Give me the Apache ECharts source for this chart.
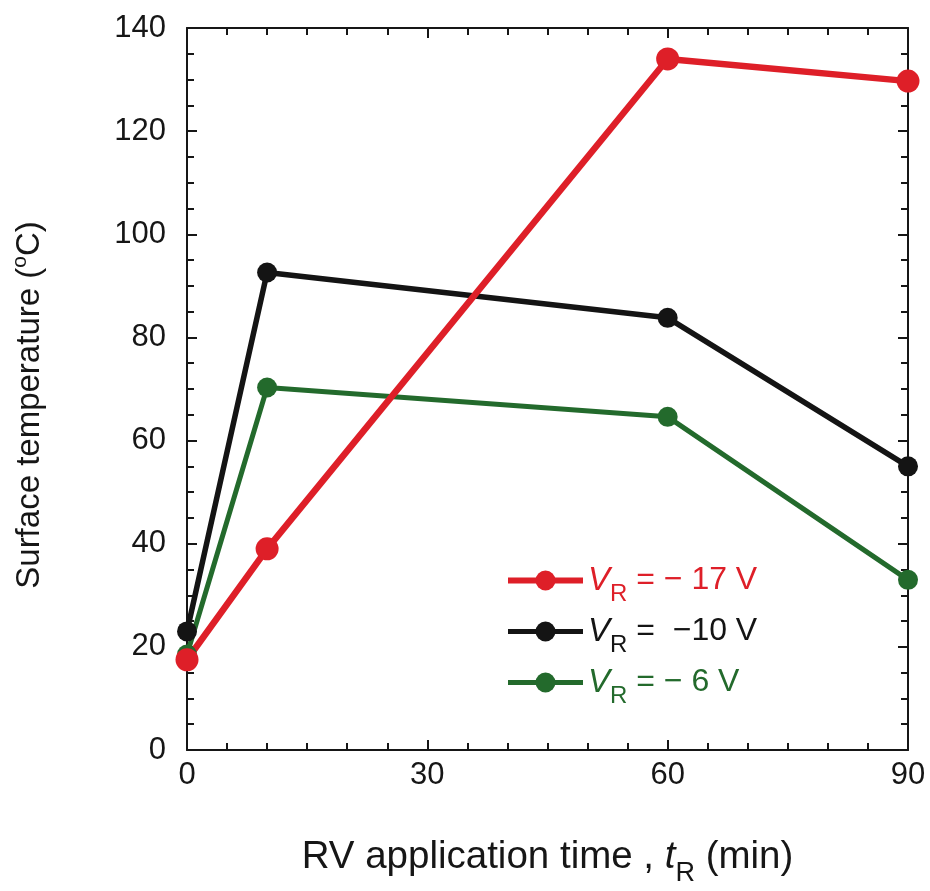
<!DOCTYPE html>
<html>
<head>
<meta charset="utf-8">
<script src="https://cdn.jsdelivr.net/npm/echarts@6/dist/echarts.min.js"></script>
<style>
  html, body { margin: 0; padding: 0; background: #fff; }
  #chart { width: 930px; height: 891px; }
</style>
</head>
<body>
<div id="chart"></div>
<script>
// Application time of the reverse voltage (min)
const times = [0, 10, 60, 90];
// Surface temperature (°C) for each reverse voltage
const tempV17 = [17.5, 39, 134, 129.7];
const tempV10 = [23, 92.6, 83.8, 55];
const tempV6 = [18.5, 70.3, 64.6, 33];
const seriesNames = ['V17', 'V10', 'V6'];
const legendTexts = { V17: '= − 17 V', V10: '=  −10 V', V6: '= − 6 V' };
const xTickLabels = ['0', '30', '60', '90'];
const yTickLabels = ['0', '20', '40', '60', '80', '100', '120', '140'];

const FONT = '"Liberation Sans", Arial, Helvetica, sans-serif';
const INK = '#161616';
const RED = '#de1f28';
const BLACK = '#141414';
const GREEN = '#236a2c';

const pairs = (ys) => times.map((t, i) => [t, ys[i]]);

function axisBase(extra) {
  return Object.assign({
    type: 'value',
    axisLine: { show: true, onZero: false, lineStyle: { color: INK, width: 2 } },
    axisTick: { show: true, inside: true, length: 10, lineStyle: { color: INK, width: 2 } },
    splitLine: { show: false },
    minorSplitLine: { show: false }
  }, extra);
}

const chart = echarts.init(document.getElementById('chart'), null, { renderer: 'canvas' });

function lineSeries(name, ys, color, width, size) {
  return {
    name: name,
    type: 'line',
    data: pairs(ys),
    clip: false,
    symbol: 'circle',
    symbolSize: size,
    lineStyle: { color: color, width: width },
    itemStyle: { color: color },
    emphasis: { disabled: true },
    animation: false
  };
}

const legendColors = { V17: RED, V10: BLACK, V6: GREEN };
const legendWidths = { V17: 6, V10: 5, V6: 5 };

chart.setOption({
  backgroundColor: '#ffffff',
  textStyle: { fontFamily: FONT },
  grid: { left: 187, right: 22, top: 28, bottom: 141, containLabel: false, outerBoundsMode: 'none' },
  xAxis: [
    axisBase({
      min: 0, max: 90, interval: 30,
      position: 'bottom',
      minorTick: { show: true, splitNumber: 6, length: 7, lineStyle: { color: INK, width: 2 } },
      axisLabel: {
        show: true, margin: 10, fontSize: 31, color: INK, fontFamily: FONT,
        formatter: (v) => xTickLabels[Math.round(v / 30)]
      },
      name: 'RV application time , {i|t}{s|R} (min)',
      nameLocation: 'middle',
      nameGap: 77,
      nameTextStyle: {
        fontSize: 38.5, color: INK, fontFamily: FONT, lineHeight: 60,
        rich: {
          i: { fontSize: 38.5, fontStyle: 'italic', color: INK, fontFamily: FONT, verticalAlign: 'middle', lineHeight: 60 },
          s: { fontSize: 27, color: INK, fontFamily: FONT, verticalAlign: 'bottom', lineHeight: 27 }
        }
      }
    }),
    axisBase({
      min: 0, max: 90, interval: 30,
      position: 'top',
      minorTick: { show: true, splitNumber: 6, length: 7, lineStyle: { color: INK, width: 2 } },
      axisLabel: { show: false }
    })
  ],
  yAxis: [
    axisBase({
      min: 0, max: 140, interval: 20,
      position: 'left',
      minorTick: { show: true, splitNumber: 4, length: 7, lineStyle: { color: INK, width: 2 } },
      axisLabel: {
        show: true, margin: 21, fontSize: 31, color: INK, fontFamily: FONT,
        formatter: (v) => yTickLabels[Math.round(v / 20)]
      },
      name: 'Surface temperature ({p|o}C)',
      nameLocation: 'middle',
      nameGap: 137,
      nameRotate: 90,
      nameTextStyle: {
        fontSize: 33, color: INK, fontFamily: FONT, lineHeight: 40,
        padding: [0, 32, 0, 0],
        rich: {
          p: { fontSize: 21, color: INK, fontFamily: FONT, verticalAlign: 'top', lineHeight: 21 }
        }
      }
    }),
    axisBase({
      min: 0, max: 140, interval: 20,
      position: 'right',
      minorTick: { show: true, splitNumber: 4, length: 7, lineStyle: { color: INK, width: 2 } },
      axisLabel: { show: false }
    })
  ],
  legend: {
    show: true,
    orient: 'vertical',
    left: 505,
    top: 555,
    padding: 0,
    itemWidth: 75,
    itemHeight: 25,
    itemGap: 0,
    selectedMode: false,
    data: seriesNames.map((n) => ({
      name: n,
      lineStyle: { color: legendColors[n], width: legendWidths[n] },
      textStyle: {
        color: legendColors[n],
        rich: {
          v: { color: legendColors[n] },
          r: { color: legendColors[n] },
          t: { color: legendColors[n] }
        }
      }
    })),
    formatter: (name) => '{v|V}{r|R}{t| ' + legendTexts[name] + '}',
    textStyle: {
      fontFamily: FONT,
      fontSize: 32,
      lineHeight: 51,
      rich: {
        v: { fontSize: 33, fontStyle: 'italic', fontFamily: FONT, verticalAlign: 'middle', lineHeight: 51 },
        r: { fontSize: 24, fontFamily: FONT, verticalAlign: 'bottom', lineHeight: 24 },
        t: { fontSize: 32, fontFamily: FONT, verticalAlign: 'middle', lineHeight: 51 }
      }
    }
  },
  series: [
    lineSeries('V6', tempV6, GREEN, 5, 20),
    lineSeries('V10', tempV10, BLACK, 5.5, 20),
    lineSeries('V17', tempV17, RED, 6.5, 23)
  ]
});
</script>
</body>
</html>
